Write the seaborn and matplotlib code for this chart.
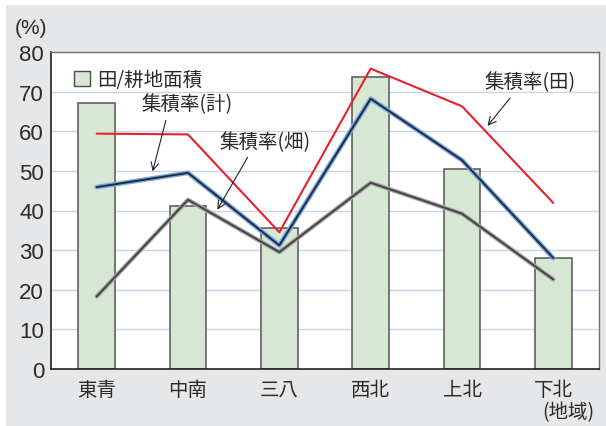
import matplotlib
matplotlib.use("Agg")
import matplotlib.pyplot as plt
import matplotlib.patheffects as pe
from matplotlib.patches import Patch, Rectangle
import seaborn as sns
import numpy as np
import pandas as pd

# data
regions = ["東青", "中南", "三八", "西北", "上北", "下北"]
paddy_share = [67.2, 41.1, 35.5, 73.8, 50.5, 27.9]      # 田/耕地面積
rate_paddy = [59.4, 59.2, 34.5, 75.8, 66.3, 41.9]       # 集積率(田)
rate_total = [45.9, 49.5, 31.2, 68.2, 52.7, 28.0]       # 集積率(計)
rate_field = [18.3, 42.7, 29.5, 47.0, 39.2, 22.6]       # 集積率(畑)
yticks = [0, 10, 20, 30, 40, 50, 60, 70, 80]

df = pd.DataFrame({"region": regions, "share": paddy_share,
                   "paddy": rate_paddy, "total": rate_total, "field": rate_field})

sns.set_style("white")
plt.rcParams["font.family"] = ["Noto Sans CJK JP", "DejaVu Sans"]

fig = plt.figure(figsize=(6.06, 4.27), dpi=100)
fig.patch.set_facecolor("white")
fig.patches.append(Rectangle((6/606, 0), 1, 421/427, transform=fig.transFigure,
                             facecolor="#e6e7e9", edgecolor="none", zorder=-10))
ax = fig.add_axes([51/606, 57/427, 548/606, 317/427])
ax.set_facecolor("white")

sns.barplot(data=df, x="region", y="share", color="#d6e8d3", edgecolor="#555555",
            linewidth=1.1, width=0.4, saturation=1, ax=ax, zorder=2)

sns.pointplot(data=df, x="region", y="paddy", color="#e8202a", marker="",
              linewidth=1.5, ax=ax, zorder=4)
sns.pointplot(data=df, x="region", y="total", color="#1d2b48", marker="",
              linewidth=1.4, ax=ax, zorder=4,
              path_effects=[pe.Stroke(linewidth=3.4, foreground="#7aa8dc"), pe.Normal()])
sns.pointplot(data=df, x="region", y="field", color="#444444", marker="",
              linewidth=1.4, ax=ax, zorder=3,
              path_effects=[pe.Stroke(linewidth=3.2, foreground="#a8a8a8"), pe.Normal()])

ax.set_xlim(-0.5, 5.5)
ax.set_ylim(0, 80)
ax.set_yticks(yticks)
ax.set_yticklabels([str(v) for v in yticks], family="Liberation Sans", fontsize=16)
ax.set_xticks(range(len(regions)))
ax.set_xticklabels(regions, fontsize=14)
ax.set_xlabel("")
ax.set_ylabel("")
ax.tick_params(axis="y", direction="in", length=7, width=1, color="#222222", pad=5, labelcolor="#2a2a2a")
ax.tick_params(axis="x", length=0, pad=7, labelcolor="#2a2a2a")
ax.grid(axis="y", color="#c6d6ec", linewidth=1)
ax.set_axisbelow(True)
for s in ["left", "bottom"]:
    ax.spines[s].set_color("#222222")
    ax.spines[s].set_linewidth(1.2)
for s in ["top", "right"]:
    ax.spines[s].set_color("#6f6f6f")
    ax.spines[s].set_linewidth(1.0)

ax.legend(handles=[Patch(facecolor="#d6e8d3", edgecolor="#4a4a4a", linewidth=1)],
          labels=["田/耕地面積"], loc="upper left", bbox_to_anchor=(0.01, 1.0),
          frameon=False, fontsize=14, handlelength=0.8, handleheight=0.8,
          handletextpad=0.4, labelcolor="#2a2a2a")

arrow = dict(arrowstyle="->", color="#222222", lw=0.8)
ax.annotate("集積率(計)", xy=(0.605, 49.2), xytext=(0.994, 66.9), fontsize=14,
            ha="center", va="center", color="#2a2a2a", zorder=6,
            arrowprops=dict(arrow, relpos=(0.28, 0.0)))
ax.annotate("集積率(畑)", xy=(1.306, 39.6), xytext=(1.848, 57.5), fontsize=14,
            ha="center", va="center", color="#2a2a2a", zorder=6,
            arrowprops=dict(arrow, relpos=(0.34, 0.0)))
ax.annotate("集積率(田)", xy=(4.26, 60.8), xytext=(4.745, 72.4), fontsize=14,
            ha="center", va="center", color="#2a2a2a", zorder=6,
            arrowprops=dict(arrow, relpos=(0.33, 0.0)))

fig.text(31/606, 1 - 28/427, "(%)", ha="center", va="center", fontsize=15,
         family="Liberation Sans", color="#2a2a2a")
fig.text(568/606, 1 - 413/427, "(地域)", ha="center", va="center", fontsize=14,
         color="#2a2a2a")

fig.savefig("out.png", dpi=100, facecolor=fig.get_facecolor())
